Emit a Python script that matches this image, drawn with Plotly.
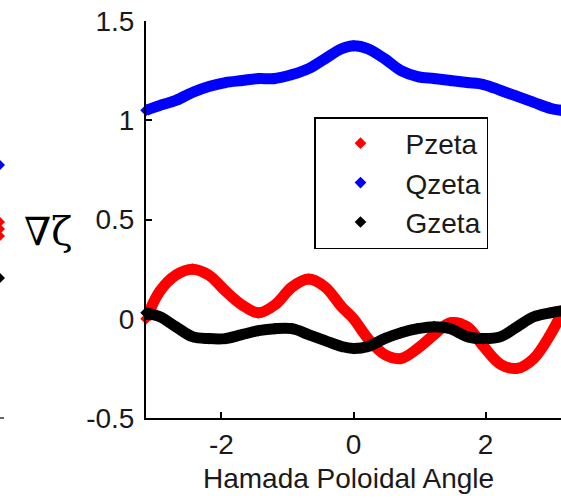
import math
import plotly.graph_objects as go

# Hamada poloidal angle samples (radians)
theta = [-3.14, -2.93, -2.69, -2.44, -2.19, -1.94, -1.69, -1.44, -1.19, -0.93,
         -0.68, -0.43, -0.18, 0.0, 0.22, 0.47, 0.72, 0.97, 1.22, 1.47,
         1.72, 1.97, 2.23, 2.48, 2.73, 2.98, 3.14]

pzeta = [0.00, 0.14, 0.22, 0.25, 0.22, 0.14, 0.07, 0.03, 0.07, 0.16,
         0.20, 0.16, 0.06, 0.00, -0.10, -0.18, -0.20, -0.15, -0.08, -0.02,
         -0.04, -0.14, -0.23, -0.25, -0.20, -0.08, 0.02]

qzeta = [1.05, 1.075, 1.10, 1.14, 1.17, 1.19, 1.20, 1.21, 1.21, 1.23,
         1.26, 1.31, 1.36, 1.375, 1.36, 1.31, 1.25, 1.22, 1.21, 1.20,
         1.19, 1.18, 1.15, 1.12, 1.09, 1.06, 1.05]

gzeta = [0.03, 0.01, -0.04, -0.09, -0.10, -0.10, -0.08, -0.06, -0.05, -0.05,
         -0.08, -0.11, -0.14, -0.15, -0.14, -0.10, -0.07, -0.05, -0.04, -0.05,
         -0.09, -0.10, -0.09, -0.04, 0.01, 0.03, 0.04]

series = [("Pzeta", pzeta, "#ff0000"),
          ("Qzeta", qzeta, "#0000ff"),
          ("Gzeta", gzeta, "#000000")]

x_ticks = [-2, 0, 2]
y_ticks = [-0.5, 0, 0.5, 1, 1.5]

FONT = "Liberation Sans, Arial, sans-serif"
TXT = "#1a1a1a"

fig = go.Figure()
for name, vals, col in series:
    # thick band of dense markers
    fig.add_trace(go.Scatter(
        x=theta, y=vals, mode="lines", name=name,
        showlegend=False, cliponaxis=False,
        line=dict(color=col, width=11, shape="spline", smoothing=1.0),
        hoverinfo="skip"))
    fig.add_trace(go.Scatter(
        x=theta, y=vals, mode="markers", name=name,
        showlegend=True, cliponaxis=False,
        marker=dict(symbol="diamond", size=9, color=col, line=dict(width=0))))

W, H = 561, 502
L, R, T, B = 146, 0, 21, 84
pw = W - L - R
ph = H - T - B

def px_to_paper_x(px):
    return (px - L) / pw

def px_to_paper_y(py):
    return (H - B - py) / ph

shapes = []
# partial markers from the neighbouring panel, cut by the left edge
for cy, col in [(165, "#0000ff"), (222, "#ff0000"), (229, "#ff0000"),
                (236, "#ff0000"), (278, "#000000")]:
    yp = px_to_paper_y(cy)
    x0 = px_to_paper_x(0)
    dx = 5 / pw
    dy = 5 / ph
    shapes.append(dict(
        type="path", xref="paper", yref="paper",
        path=f"M {x0 - dx} {yp} L {x0} {yp + dy} L {x0 + dx} {yp} L {x0} {yp - dy} Z",
        fillcolor=col, line=dict(width=0)))
shapes.append(dict(type="line", xref="paper", yref="paper",
                   x0=px_to_paper_x(0), x1=px_to_paper_x(4), y0=0, y1=0,
                   line=dict(color="#333", width=1.5)))

annotations = [
    dict(text="∇ζ", xref="paper", yref="paper",
         x=px_to_paper_x(22), y=px_to_paper_y(231),
         xanchor="left", yanchor="middle", showarrow=False,
         width=47, align="left",
         font=dict(family="DejaVu Serif, serif", size=39, color="#000")),
    dict(text="Hamada Poloidal Angle", xref="paper", yref="paper",
         x=px_to_paper_x(348), y=px_to_paper_y(478),
         xanchor="center", yanchor="middle", showarrow=False,
         font=dict(family=FONT, size=28, color=TXT)),
]

fig.update_layout(
    width=W, height=H,
    margin=dict(l=L, r=R, t=T, b=B, pad=0),
    paper_bgcolor="white", plot_bgcolor="white",
    font=dict(family=FONT, size=28, color=TXT),
    shapes=shapes, annotations=annotations,
    showlegend=True,
    legend=dict(
        x=px_to_paper_x(314), y=px_to_paper_y(117),
        xanchor="left", yanchor="top",
        bgcolor="white", bordercolor="#000", borderwidth=1.5,
        font=dict(family=FONT, size=28, color=TXT),
        itemwidth=80, tracegroupgap=0,
        itemclick=False),
    xaxis=dict(
        range=[-math.pi, math.pi], tickvals=x_ticks,
        ticktext=[str(v) for v in x_ticks],
        showgrid=False, zeroline=False,
        showline=True, linecolor="#000", linewidth=2,
        ticks="inside", ticklen=6, tickwidth=1.5, tickcolor="#000",
        tickfont=dict(family=FONT, size=28, color=TXT)),
    yaxis=dict(
        range=[-0.5, 1.5], tickvals=y_ticks,
        ticktext=["-0.5", "0", "0.5", "1", "1.5"],
        showgrid=False, zeroline=False,
        showline=True, linecolor="#000", linewidth=2,
        ticks="inside", ticklen=6, tickwidth=1.5, tickcolor="#000",
        ticklabelstandoff=4,
        tickfont=dict(family=FONT, size=28, color=TXT)),
)

fig.write_html("out.html")
